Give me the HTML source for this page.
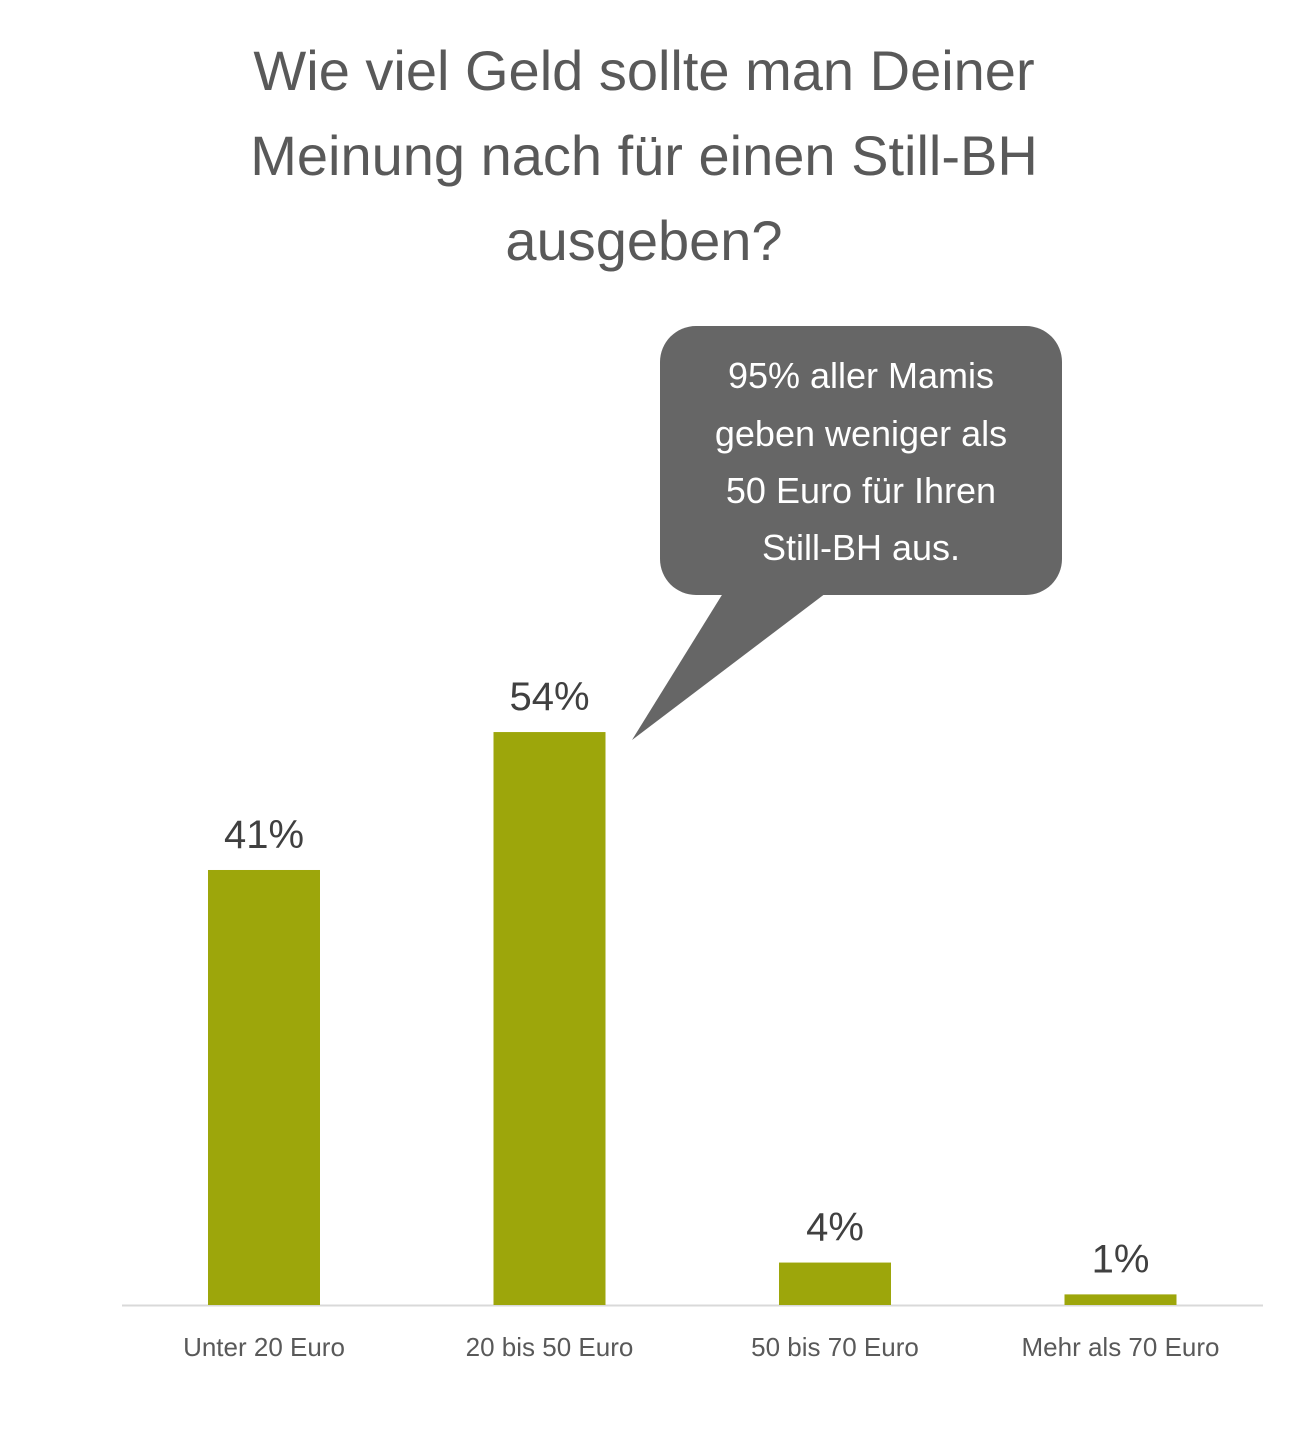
<!DOCTYPE html>
<html><head><meta charset="utf-8"><style>
body{margin:0;background:#fff;width:1297px;height:1427px;overflow:hidden;font-family:"Liberation Sans",sans-serif}
</style></head><body>
<svg width="1297" height="1427" viewBox="0 0 1297 1427">
<g fill="#595959" font-size="56" text-anchor="middle">
<text x="644" y="90">Wie viel Geld sollte man Deiner</text>
<text x="644" y="175">Meinung nach für einen Still-BH</text>
<text x="644" y="260">ausgeben?</text>
</g>
<g>
<rect x="660" y="326" width="402" height="269" rx="36" fill="#666666"/>
<polygon points="725,590 632,740 830,590" fill="#666666"/>
<g fill="#fff" font-size="36" text-anchor="middle">
<text x="861" y="388">95% aller Mamis</text>
<text x="861" y="446">geben weniger als</text>
<text x="861" y="503">50 Euro für Ihren</text>
<text x="861" y="560">Still-BH aus.</text>
</g></g>
<line x1="122" y1="1305.5" x2="1263" y2="1305.5" stroke="#d9d9d9" stroke-width="2"/>
<g id="bars"></g>
</svg>
<script>
const categories=["Unter 20 Euro","20 bis 50 Euro","50 bis 70 Euro","Mehr als 70 Euro"];
const values=[41,54,4,1];
const valueLabels=["41%","54%","4%","1%"];
const ns="http://www.w3.org/2000/svg";
const g=document.getElementById('bars');
const baseY=1305, pxPer=10.61, x0=264, step=285.5, bw=112;
function xScale(i){return x0+i*step;}
function yScale(v){return baseY-v*pxPer;}
categories.forEach((c,i)=>{
 const cx=xScale(i), top=yScale(values[i]);
 const r=document.createElementNS(ns,'rect');
 
 
 r.setAttribute('x',cx-bw/2);r.setAttribute('y',top);r.setAttribute('width',bw);r.setAttribute('height',baseY-top);r.setAttribute('fill','#9da60b');
 g.appendChild(r);
 const t=document.createElementNS(ns,'text');
 
 
 t.setAttribute('x',cx);t.setAttribute('y',top-22);t.setAttribute('text-anchor','middle');t.setAttribute('font-size','40');t.setAttribute('fill','#404040');
 t.textContent=valueLabels[i];g.appendChild(t);
 const l=document.createElementNS(ns,'text');
 
 
 l.setAttribute('x',cx);l.setAttribute('y',1356);l.setAttribute('text-anchor','middle');l.setAttribute('font-size','26');l.setAttribute('fill','#595959');
 l.textContent=c;g.appendChild(l);
});
</script>
</body></html>
